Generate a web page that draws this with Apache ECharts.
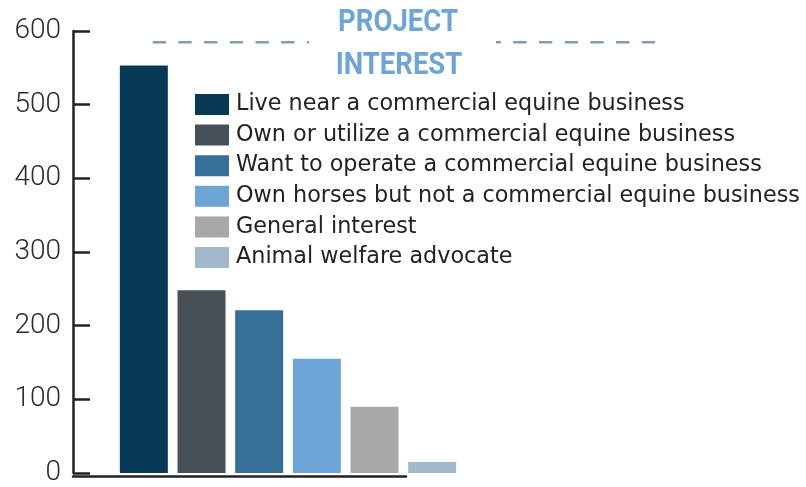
<!DOCTYPE html>
<html>
<head>
<meta charset="utf-8">
<script src="https://cdn.jsdelivr.net/npm/echarts@6/dist/echarts.min.js"></script>
<style>
html,body{margin:0;padding:0;background:#fff;}
#chart{width:806px;height:487px;}
</style>
</head>
<body>
<div id="chart"></div>
<script>
const categories = [
  'Live near a commercial equine business',
  'Own or utilize a commercial equine business',
  'Want to operate a commercial equine business',
  'Own horses but not a commercial equine business',
  'General interest',
  'Animal welfare advocate'
];
const values = [553, 248, 221, 155, 90, 15];
const colors = ['#083957', '#474f57', '#366f97', '#6fa4d6', '#a6a9ac', '#a2b8cc'];
const yTicks = [0, 100, 200, 300, 400, 500, 600];
const titleLines = ['PROJECT', 'INTEREST'];

const chart = echarts.init(document.getElementById('chart'), null, {renderer: 'canvas'});

const series = categories.map((name, i) => ({
  name: name,
  type: 'bar',
  xAxisIndex: 0,
  yAxisIndex: 0,
  barWidth: 48,
  barGap: '-100%',
  itemStyle: {color: colors[i]},
  data: categories.map((c, j) => (j === i ? values[i] : '-'))
}));

const titleFont = 'bold 32px Roboto';
const dashStyle = {stroke: '#7f9db4', lineWidth: 2.5, lineDash: [13.3, 12.4]};

chart.setOption({
  animation: false,
  backgroundColor: '#ffffff',
  graphic: [
    {type: 'line', shape: {x1: 152.7, y1: 42.3, x2: 309, y2: 42.3}, style: dashStyle},
    {type: 'line', shape: {x1: 496, y1: 42.3, x2: 656, y2: 42.3}, style: Object.assign({}, dashStyle, {lineDashOffset: 8.4})},
    {type: 'text', x: 398, y: 23.4, scaleX: 0.86, style: {text: titleLines[0], align: 'center', verticalAlign: 'middle', fill: '#6fa4d6', font: titleFont}},
    {type: 'text', x: 399, y: 66.3, scaleX: 0.86, style: {text: titleLines[1], align: 'center', verticalAlign: 'middle', fill: '#6fa4d6', font: titleFont}}
  ],
  legend: {
    orient: 'vertical',
    left: 190,
    top: 88.5,
    icon: 'rect',
    itemWidth: 34,
    itemHeight: 21,
    itemGap: 8.6,
    selectedMode: false,
    data: categories,
    textStyle: {fontFamily: '"DejaVu Sans"', fontSize: 22.3, color: '#222222', padding: [0, 0, 0, 2]}
  },
  grid: [
    {left: 115, width: 346, top: 31, bottom: 11, containLabel: false},
    {left: 73, width: 333, top: 31, bottom: 11, containLabel: false}
  ],
  xAxis: [
    {type: 'category', gridIndex: 0, data: categories, axisLine: {show: false}, axisTick: {show: false}, axisLabel: {show: false}},
    {type: 'value', gridIndex: 1, min: 0, max: 1, axisLine: {show: true, lineStyle: {color: '#222222', width: 2.5}}, axisTick: {show: false}, axisLabel: {show: false}, splitLine: {show: false}}
  ],
  yAxis: [
    {
      type: 'value', gridIndex: 0, min: yTicks[0], max: yTicks[yTicks.length - 1], interval: 100,
      offset: 42,
      axisLine: {show: true, lineStyle: {color: '#222222', width: 2.5}},
      axisTick: {show: true, inside: true, length: 17, lineStyle: {color: '#222222', width: 2.5}},
      axisLabel: {margin: 12, fontFamily: 'Roboto', fontWeight: 300, fontSize: 28, color: '#2b2b2b'},
      splitLine: {show: false}
    },
    {type: 'value', gridIndex: 1, min: 0, max: 600, show: false}
  ],
  series: series
});
</script>
</body>
</html>
